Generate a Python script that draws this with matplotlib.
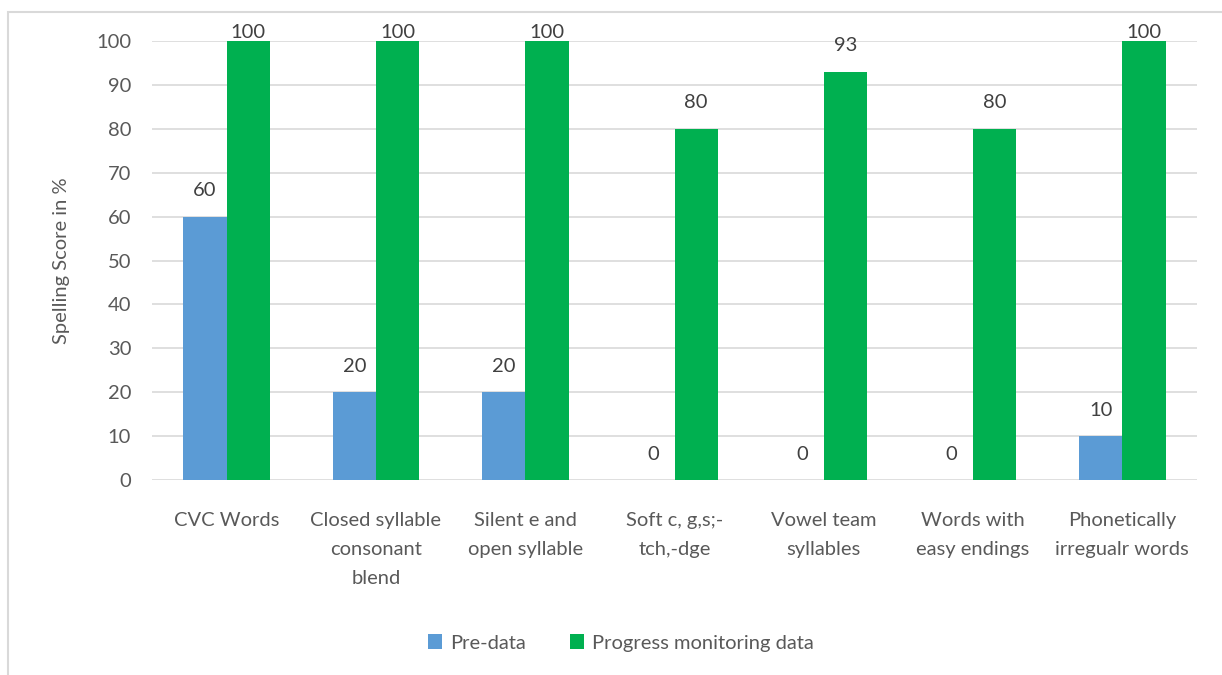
import numpy as np
import matplotlib
matplotlib.use("Agg")
import matplotlib.pyplot as plt
from matplotlib.patches import Rectangle

categories = ["CVC Words", "Closed syllable\nconsonant\nblend", "Silent e and\nopen syllable",
              "Soft c, g,s;-\ntch,-dge", "Vowel team\nsyllables", "Words with\neasy endings",
              "Phonetically\nirregualr words"]
pre_data = [60, 20, 20, 0, 0, 0, 10]
progress_data = [100, 100, 100, 80, 93, 80, 100]
series_names = ["Pre-data", "Progress monitoring data"]

blue = "#5B9BD5"
green = "#00B050"
txt = "#595959"
fs = 14.5

plt.rcParams['font.family'] = ['Lato', 'DejaVu Sans']
fig = plt.figure(figsize=(12.22, 6.75), dpi=100, facecolor='w')
W, H = 1222, 675
top_px, bot_px = 41, 480
ax = fig.add_axes([152 / W, 1 - bot_px / H, (1197 - 152) / W, (bot_px - top_px) / H])

x = np.arange(len(categories))
w = 0.29
b1 = ax.bar(x - w / 2, pre_data, w, color=blue, label=series_names[0], zorder=3)
b2 = ax.bar(x + w / 2, progress_data, w, color=green, label=series_names[1], zorder=3)

px_per_unit = (bot_px - top_px) / 100
for bars, vals in ((b1, pre_data), (b2, progress_data)):
    for r, v in zip(bars, vals):
        # labels are kept inside the plot area, like Excel does
        off = min(26, (100 - v) * px_per_unit + 9)
        ax.annotate(str(v), (r.get_x() + r.get_width() / 2, v), xytext=(0, off),
                    textcoords="offset pixels", ha="center", va="center",
                    fontsize=fs, color="#404040")

ax.set_xlim(-0.5, len(categories) - 0.5)
ax.set_ylim(0, 100)
ax.set_yticks(range(0, 101, 10))
ax.yaxis.grid(True, color="#d9d9d9", linewidth=1.2, zorder=0)
ax.set_axisbelow(True)
for s in ax.spines.values():
    s.set_visible(False)
ax.tick_params(length=0, labelsize=fs, colors=txt)
ax.tick_params(axis='y', pad=15)
ax.tick_params(axis='x', pad=23)
ax.set_xticks(x)
ax.set_xticklabels(categories, linespacing=1.85)
ax.set_ylabel("Spelling Score in %", fontsize=fs, color=txt)
ax.yaxis.set_label_coords(-82 / (1197 - 152), 0.5)

leg = fig.legend(loc="center", bbox_to_anchor=(621 / W, 1 - 643 / H), ncol=2, frameon=False,
                 fontsize=fs, handlelength=0.7, handleheight=0.7, columnspacing=2.2,
                 handletextpad=0.4)
for t in leg.get_texts():
    t.set_color(txt)

# chart border
fig.patches.append(Rectangle((8 / W, -0.1), 1.2, 1 - 12 / H + 0.1, transform=fig.transFigure,
                             fill=False, edgecolor="#d9d9d9", linewidth=1.5))

fig.savefig("out.png", dpi=100, facecolor='w')
